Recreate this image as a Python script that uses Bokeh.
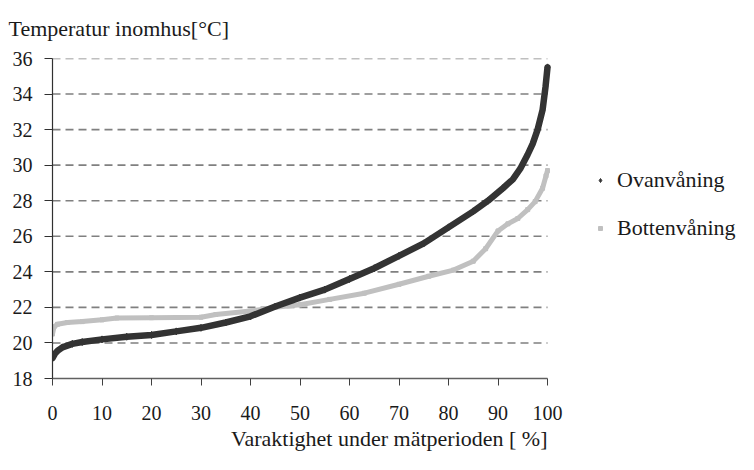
from bokeh.plotting import figure
from bokeh.models import Range1d, FixedTicker, Title, Legend, LegendItem
from bokeh.embed import file_html
from bokeh.resources import INLINE

# Duration curves: share of the measuring period (%) vs indoor temperature (°C)
ovan_pct = [0, 0.5, 1, 2, 4, 6, 10, 15, 20, 25, 30, 35, 40, 45, 50, 55, 60,
            65, 70, 75, 80, 85, 88, 91, 93, 94.5, 96, 97, 98, 99, 99.6, 100]
ovan_temp = [19.15, 19.4, 19.55, 19.75, 19.95, 20.05, 20.2, 20.35, 20.45,
             20.65, 20.85, 21.15, 21.5, 22.05, 22.55, 23.0, 23.6, 24.2, 24.9,
             25.6, 26.5, 27.4, 28.0, 28.7, 29.2, 29.8, 30.6, 31.2, 32.0, 33.1,
             34.4, 35.5]

botten_pct = [0, 0.3, 1, 3, 6, 10, 13, 20, 30, 33, 40, 45, 50, 56, 63, 70,
              76, 81, 85, 87.5, 90, 92, 94, 96, 97.5, 99, 99.7, 100]
botten_temp = [20.5, 20.9, 21.05, 21.15, 21.2, 21.3, 21.4, 21.42, 21.45,
               21.6, 21.8, 22.0, 22.15, 22.45, 22.8, 23.3, 23.75, 24.1, 24.6,
               25.3, 26.3, 26.7, 27.0, 27.5, 27.95, 28.7, 29.4, 29.7]

x_ticks = [0, 10, 20, 30, 40, 50, 60, 70, 80, 90, 100]
y_ticks = [18, 20, 22, 24, 26, 28, 30, 32, 34, 36]

series_names = ["Ovanvåning", "Bottenvåning"]
y_title = "Temperatur inomhus[°C]"
x_title = "Varaktighet under mätperioden [ %]"

FONT = "'Liberation Serif', 'DejaVu Serif', serif"
DARK = "#333333"
LIGHT = "#c0c0c0"

X_MIN, X_MAX = x_ticks[0], x_ticks[-1]
PLOT_W, LEFT, AXIS_W = 754, 52, 495
# the frame runs on to the right edge so the legend has room beside the curves
x_end = X_MIN + (X_MAX - X_MIN) * (PLOT_W - LEFT) / AXIS_W

p = figure(width=PLOT_W, height=470,
           x_range=Range1d(X_MIN, x_end), y_range=Range1d(y_ticks[0], y_ticks[-1]),
           output_backend="svg", toolbar_location=None,
           min_border_left=LEFT, min_border_right=0,
           min_border_top=56, min_border_bottom=92)
p.outline_line_color = None
p.background_fill_color = "white"
p.border_fill_color = "white"
p.xgrid.visible = False
p.ygrid.visible = False

# dashed horizontal grid lines over the 0-100 % span
grid_y = y_ticks[1:]
p.segment(x0=[X_MIN] * len(grid_y), y0=grid_y,
          x1=[X_MAX] * len(grid_y), y1=grid_y,
          line_color="#808080", line_width=1.6, line_dash="8 5")

# axes
p.xaxis.ticker = FixedTicker(ticks=x_ticks)
p.xaxis.bounds = (X_MIN, X_MAX)
p.yaxis.ticker = FixedTicker(ticks=y_ticks)
for ax in (p.xaxis, p.yaxis):
    ax.major_label_text_font = FONT
    ax.major_label_text_font_size = "20px"
    ax.major_label_text_color = "#1a1a1a"
    ax.minor_tick_line_color = None
    ax.major_tick_in = 0
p.xaxis.axis_line_color = "#606060"
p.xaxis.axis_line_width = 1.5
p.xaxis.major_tick_line_color = "#404040"
p.xaxis.major_tick_out = 7
p.xaxis.major_label_standoff = 20
p.yaxis.axis_line_color = "#303030"
p.yaxis.axis_line_width = 1.2
p.yaxis.major_tick_line_color = "#303030"
p.yaxis.major_tick_out = 8
p.yaxis.major_label_standoff = 12

# point markers (used for legend symbols), then the curves on top
ovan_pts = p.scatter(ovan_pct, ovan_temp, marker="diamond", size=7,
                     color=DARK)
botten_pts = p.scatter(botten_pct, botten_temp, marker="square", size=4,
                       color=LIGHT)
p.line(botten_pct, botten_temp, line_color=LIGHT, line_width=5)
p.line(ovan_pct, ovan_temp, line_color=DARK, line_width=6.5,
       line_cap="round", line_join="round")

legend = Legend(items=[LegendItem(label=series_names[0], renderers=[ovan_pts]),
                       LegendItem(label=series_names[1], renderers=[botten_pts])],
                location=(543, 137))
legend.border_line_color = None
legend.background_fill_alpha = 0
legend.padding = 0
legend.margin = 0
legend.spacing = 22
legend.glyph_width = 10
legend.glyph_height = 20
legend.label_height = 20
legend.label_standoff = 12
legend.label_text_font = FONT
legend.label_text_font_size = "22px"
legend.label_text_color = "#1a1a1a"
p.add_layout(legend)

# y-axis title hung from the top of its panel
yt = Title(text=y_title, align="left", offset=-44, standoff=31,
           vertical_align="top",
           text_font=FONT, text_font_size="22px", text_font_style="normal",
           text_color="#1a1a1a")
p.add_layout(yt, "above")
xt = Title(text=x_title, align="right", offset=PLOT_W - LEFT - AXIS_W, standoff=2,
           text_font=FONT, text_font_size="22px", text_font_style="normal",
           text_color="#1a1a1a")
p.add_layout(xt, "below")

open("out.html", "w").write(file_html(p, INLINE))
